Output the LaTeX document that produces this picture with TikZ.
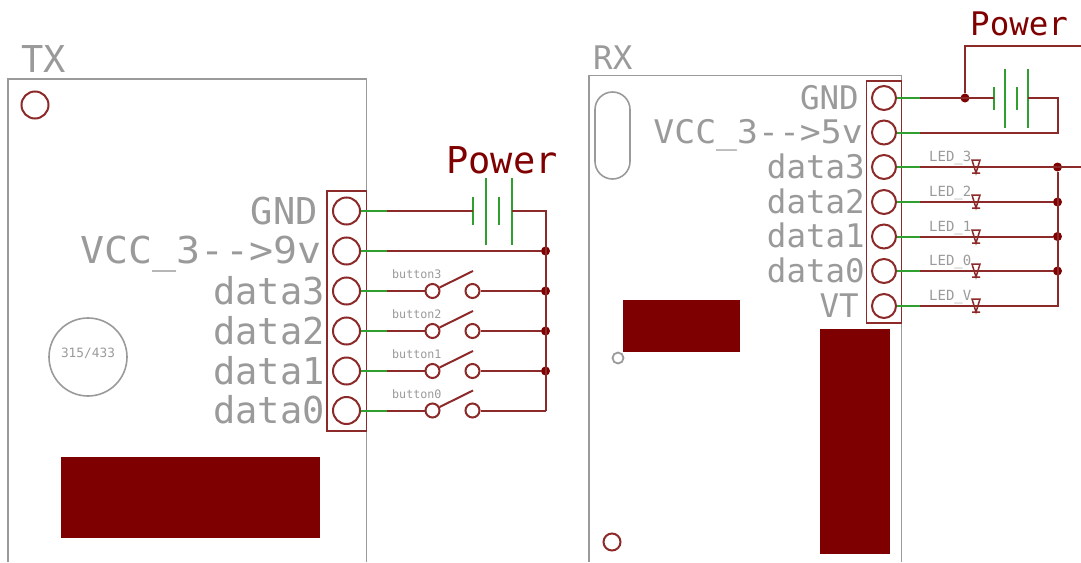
\documentclass[tikz,border=0pt]{standalone}
\usepackage{fontspec}
\setmonofont{DejaVu Sans Mono}
\usepackage{xcolor}
\definecolor{wirered}{HTML}{8C2A2A}
\definecolor{padred}{HTML}{7F0000}
\definecolor{stubgreen}{HTML}{2FA02F}
\definecolor{silk}{HTML}{9A9A9A}
\tikzset{
  wire/.style={draw=wirered,line width=2pt},
  stub/.style={draw=stubgreen,line width=2pt},
  plate/.style={draw=stubgreen,line width=2pt},
  board/.style={draw=silk,line width=1.6pt},
  pinbox/.style={draw=wirered,line width=1.8pt},
  txpin/.style={circle,draw=wirered,line width=2pt,minimum size=27pt,inner sep=0pt},
  rxpin/.style={circle,draw=wirered,line width=2pt,minimum size=24pt,inner sep=0pt},
  contact/.style={circle,draw=wirered,line width=2pt,minimum size=14pt,inner sep=0pt},
  junction/.style={circle,fill=padred,minimum size=9pt,inner sep=0pt},
  txsilk/.style={anchor=base east,inner sep=0pt,text=silk,font=\ttfamily\fontsize{37}{37}\selectfont},
  rxsilk/.style={anchor=base east,inner sep=0pt,text=silk,font=\ttfamily\fontsize{32.5}{32.5}\selectfont},
  small/.style={anchor=base west,inner sep=0pt,text=silk,font=\ttfamily\fontsize{11.7}{12}\selectfont},
  ledlabel/.style={anchor=base west,inner sep=0pt,text=silk,font=\ttfamily\fontsize{14}{14}\selectfont},
  led/.style={draw=wirered,line width=1.5pt}
}
\begin{document}
\begin{tikzpicture}[x=1pt,y=-1pt]
\useasboundingbox (0,0) rectangle (1081,562);
\draw [board] (8,562) -- (8,79) -- (366.5,79) -- (366.5,562);
\node [txsilk,anchor=base west] (txname) at (21,72) {TX};
\draw [wirered,line width=2pt] (35,105) circle[radius=13.5];
\draw [silk,line width=1.6pt] (88,357) circle[radius=39];
\node [small,anchor=center,font=\ttfamily\fontsize{12.8}{13}\selectfont] (txfreq) at (88,353) {315/433};
\fill [padred] (61,457) rectangle (320,538);
\draw [pinbox] (327,191) rectangle (366.5,431);
\node [txpin] (t1) at (346.5,211) {};
\node [txpin] (t2) at (346.5,251) {};
\node [txpin] (t3) at (346.5,291) {};
\node [txpin] (t4) at (346.5,331) {};
\node [txpin] (t5) at (346.5,371) {};
\node [txpin] (t6) at (346.5,410.5) {};
\node [txsilk] (tgnd) at (318,224) {GND};
\node [txsilk,xscale=1.08,anchor=base east] (tvcc) at (321.5,263) {VCC\_3-{}->9v};
\node [txsilk] (td3) at (325,304) {data3};
\node [txsilk] (td2) at (325,344) {data2};
\node [txsilk] (td1) at (325,384) {data1};
\node [txsilk] (td0) at (325,423) {data0};
\coordinate (t1w) at (387,211);
\coordinate (t2w) at (387,251);
\coordinate (t3w) at (387,291);
\coordinate (t4w) at (387,331);
\coordinate (t5w) at (387,371);
\coordinate (t6w) at (387,410.5);
\draw [stub] (t1) -- (t1w);
\draw [stub] (t2) -- (t2w);
\draw [stub] (t3) -- (t3w);
\draw [stub] (t4) -- (t4w);
\draw [stub] (t5) -- (t5w);
\draw [stub] (t6) -- (t6w);
\node [txsilk,anchor=base west,text=padred] (tpower) at (446,173) {Power};
\coordinate (tb1) at (473,211);
\coordinate (tb4) at (512,211);
\coordinate (trail) at (545.5,211);
\draw [plate] (473,197) -- (473,225);
\draw [plate] (486,178) -- (486,245);
\draw [plate] (499,197) -- (499,225);
\draw [plate] (512,178) -- (512,245);
\node [junction] (tj2) at (545.5,251) {};
\node [junction] (tj3) at (545.5,291) {};
\node [junction] (tj4) at (545.5,331) {};
\node [junction] (tj5) at (545.5,371) {};
\coordinate (tj6) at (545.5,410.5);
\draw [wire] (t1w) -- (tb1);
\draw [wire] (tb4) -- (trail) -- (tj6);
\draw [wire] (t2w) -- (tj2);
\node [contact] (s3a) at (432.5,291) {};
\node [contact] (s3b) at (472.5,291) {};
\node [contact] (s2a) at (432.5,331) {};
\node [contact] (s2b) at (472.5,331) {};
\node [contact] (s1a) at (432.5,371) {};
\node [contact] (s1b) at (472.5,371) {};
\node [contact] (s0a) at (432.5,410.5) {};
\node [contact] (s0b) at (472.5,410.5) {};
\coordinate (s3e) at (473,271);
\coordinate (s2e) at (473,311);
\coordinate (s1e) at (473,351);
\coordinate (s0e) at (473,390.5);
\draw [wire] (s3a) -- (s3e);
\draw [wire] (s2a) -- (s2e);
\draw [wire] (s1a) -- (s1e);
\draw [wire] (s0a) -- (s0e);
\draw [wire] (t3w) -- (s3a);
\draw [wire] (t4w) -- (s2a);
\draw [wire] (t5w) -- (s1a);
\draw [wire] (t6w) -- (s0a);
\draw [wire] (s3b) -- (tj3);
\draw [wire] (s2b) -- (tj4);
\draw [wire] (s1b) -- (tj5);
\draw [wire] (s0b) -- (tj6);
\node [small] (l3) at (392,278) {button3};
\node [small] (l2) at (392,318) {button2};
\node [small] (l1) at (392,358) {button1};
\node [small] (l0) at (392,398) {button0};
\draw [board] (589,562) -- (589,75.5) -- (901.5,75.5) -- (901.5,562);
\node [rxsilk,anchor=base west] (rxname) at (593,69) {RX};
\draw [silk,line width=1.6pt,rounded corners=17.5pt] (595,92) rectangle (630,179);
\fill [padred] (623,300) rectangle (740,352);
\draw [silk,line width=1.8pt] (618,358) circle[radius=5.5];
\fill [padred] (820,329) rectangle (890,554);
\draw [wirered,line width=2pt] (612,542) circle[radius=8.5];
\draw [pinbox] (866.5,81) rectangle (901.5,323);
\node [rxpin] (r1) at (884,98) {};
\node [rxpin] (r2) at (884,132.5) {};
\node [rxpin] (r3) at (884,167) {};
\node [rxpin] (r4) at (884,202) {};
\node [rxpin] (r5) at (884,236.5) {};
\node [rxpin] (r6) at (884,271) {};
\node [rxpin] (r7) at (884,306) {};
\node [rxsilk] (rgnd) at (859,109) {GND};
\node [rxsilk,xscale=1.07,anchor=base east] (rvcc) at (863,143) {VCC\_3-{}->5v};
\node [rxsilk] (rd3) at (865,178) {data3};
\node [rxsilk] (rd2) at (865,213) {data2};
\node [rxsilk] (rd1) at (865,247) {data1};
\node [rxsilk] (rd0) at (865,282) {data0};
\node [rxsilk] (rvt) at (859,317) {VT};
\coordinate (r1w) at (920,98);
\coordinate (r2w) at (920,132.5);
\coordinate (r3w) at (920,167);
\coordinate (r4w) at (920,202);
\coordinate (r5w) at (920,236.5);
\coordinate (r6w) at (920,271);
\coordinate (r7w) at (920,306);
\draw [stub] (r1) -- (r1w);
\draw [stub] (r2) -- (r2w);
\draw [stub] (r3) -- (r3w);
\draw [stub] (r4) -- (r4w);
\draw [stub] (r5) -- (r5w);
\draw [stub] (r6) -- (r6w);
\draw [stub] (r7) -- (r7w);
\node [rxsilk,anchor=base west,text=padred] (rpower) at (970,35) {Power};
\coordinate (rb1) at (994,98);
\coordinate (rb4) at (1028,98);
\coordinate (rrail) at (1057.5,98);
\coordinate (rback) at (1057.5,132.5);
\coordinate (rtop) at (965,46);
\coordinate (rout) at (1081,46);
\draw [plate] (994,87) -- (994,110);
\draw [plate] (1005,69) -- (1005,128);
\draw [plate] (1017,87) -- (1017,110);
\draw [plate] (1028,69) -- (1028,128);
\node [junction] (rj1) at (965,98) {};
\draw [wire] (r1w) -- (rb1);
\draw [wire] (rb4) -- (rrail) -- (rback) -- (r2w);
\draw [wire] (rj1) -- (rtop) -- (rout);
\node [junction] (rj3) at (1057.5,167) {};
\node [junction] (rj4) at (1057.5,202) {};
\node [junction] (rj5) at (1057.5,236.5) {};
\node [junction] (rj6) at (1057.5,271) {};
\coordinate (rj7) at (1057.5,306);
\coordinate (rout3) at (1081,167);
\draw [wire] (r3w) -- (rout3);
\draw [wire] (r4w) -- (rj4);
\draw [wire] (r5w) -- (rj5);
\draw [wire] (r6w) -- (rj6);
\draw [wire] (r7w) -- (rj7) -- (rj3);
\draw [led] (972,160) -- (980,160) -- (976,173) -- cycle (972,173) -- (980,173);
\draw [led] (972,195) -- (980,195) -- (976,208) -- cycle (972,208) -- (980,208);
\draw [led] (972,230) -- (980,230) -- (976,243) -- cycle (972,243) -- (980,243);
\draw [led] (972,264) -- (980,264) -- (976,277) -- cycle (972,277) -- (980,277);
\draw [led] (972,299) -- (980,299) -- (976,312) -- cycle (972,312) -- (980,312);
\node [ledlabel] (led3) at (929,161.5) {LED\_3};
\node [ledlabel] (led2) at (929,196.5) {LED\_2};
\node [ledlabel] (led1) at (929,231) {LED\_1};
\node [ledlabel] (led0) at (929,265.5) {LED\_0};
\node [ledlabel] (ledv) at (929,300.5) {LED\_V};
\end{tikzpicture}
\end{document}
